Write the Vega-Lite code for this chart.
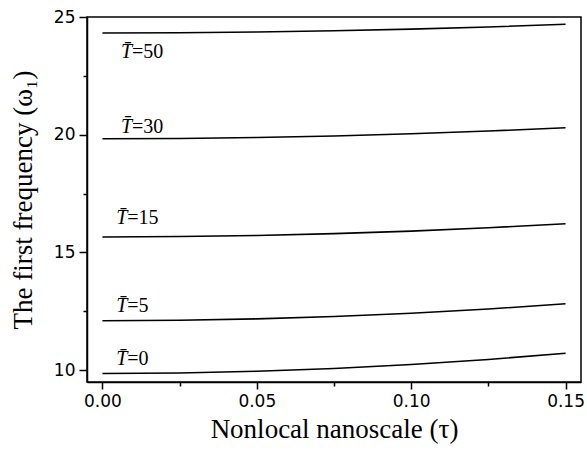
{
  "$schema": "https://vega.github.io/schema/vega-lite/v6.json",
  "width": 494,
  "height": 365,
  "autosize": {"type": "none"},
  "padding": {"left": 87, "top": 17, "right": 6, "bottom": 75},
  "background": "white",
  "config": {
    "view": {"stroke": "black", "strokeWidth": 1.5},
    "axis": {
      "grid": false,
      "domainColor": "black",
      "domainWidth": 1.5,
      "tickColor": "black",
      "tickWidth": 1.5,
      "labelColor": "black",
      "labelFont": "DejaVu Sans",
      "labelFontSize": 17,
      "labelOverlap": false,
      "labelFlush": false,
      "titleColor": "black",
      "titleFont": "Liberation Serif",
      "titleFontSize": 27,
      "titleFontWeight": "normal"
    }
  },
  "datasets": {
    "curves": [
      {"T": "0", "tau": 0, "freq": 9.86},
      {"T": "0", "tau": 0.025, "freq": 9.884},
      {"T": "0", "tau": 0.05, "freq": 9.955},
      {"T": "0", "tau": 0.075, "freq": 10.075},
      {"T": "0", "tau": 0.1, "freq": 10.242},
      {"T": "0", "tau": 0.125, "freq": 10.457},
      {"T": "0", "tau": 0.15, "freq": 10.72},
      {"T": "5", "tau": 0, "freq": 12.1},
      {"T": "5", "tau": 0.025, "freq": 12.12},
      {"T": "5", "tau": 0.05, "freq": 12.18},
      {"T": "5", "tau": 0.075, "freq": 12.28},
      {"T": "5", "tau": 0.1, "freq": 12.42},
      {"T": "5", "tau": 0.125, "freq": 12.6},
      {"T": "5", "tau": 0.15, "freq": 12.82},
      {"T": "15", "tau": 0, "freq": 15.66},
      {"T": "15", "tau": 0.025, "freq": 15.676},
      {"T": "15", "tau": 0.05, "freq": 15.722},
      {"T": "15", "tau": 0.075, "freq": 15.8},
      {"T": "15", "tau": 0.1, "freq": 15.909},
      {"T": "15", "tau": 0.125, "freq": 16.049},
      {"T": "15", "tau": 0.15, "freq": 16.22},
      {"T": "30", "tau": 0, "freq": 19.83},
      {"T": "30", "tau": 0.025, "freq": 19.843},
      {"T": "30", "tau": 0.05, "freq": 19.882},
      {"T": "30", "tau": 0.075, "freq": 19.948},
      {"T": "30", "tau": 0.1, "freq": 20.039},
      {"T": "30", "tau": 0.125, "freq": 20.156},
      {"T": "30", "tau": 0.15, "freq": 20.3},
      {"T": "50", "tau": 0, "freq": 24.32},
      {"T": "50", "tau": 0.025, "freq": 24.33},
      {"T": "50", "tau": 0.05, "freq": 24.361},
      {"T": "50", "tau": 0.075, "freq": 24.413},
      {"T": "50", "tau": 0.1, "freq": 24.484},
      {"T": "50", "tau": 0.125, "freq": 24.577},
      {"T": "50", "tau": 0.15, "freq": 24.69}
    ],
    "labels": [
      {"T": "0", "tau": 0.0045, "freq": 10.48, "rest": "=0"},
      {"T": "5", "tau": 0.0045, "freq": 12.72, "rest": "=5"},
      {"T": "15", "tau": 0.0045, "freq": 16.45, "rest": "=15"},
      {"T": "30", "tau": 0.006, "freq": 20.35, "rest": "=30"},
      {"T": "50", "tau": 0.006, "freq": 23.5, "rest": "=50"}
    ]
  },
  "layer": [
    {
      "data": {"name": "curves"},
      "mark": {"type": "line", "color": "black", "strokeWidth": 1.6, "interpolate": "natural"},
      "encoding": {
        "x": {
          "field": "tau",
          "type": "quantitative",
          "scale": {"domain": [-0.005, 0.155], "nice": false, "zero": false},
          "axis": {
            "title": "Nonlocal nanoscale (τ)",
            "values": [0, 0.025, 0.05, 0.075, 0.1, 0.125, 0.15],
            "labelExpr": "round(datum.value*1000) % 50 === 0 ? format(datum.value, '.2f') : ''",
            "tickSize": {"condition": {"test": "round(datum.value*1000) % 50 === 0", "value": 7}, "value": 4},
            "labelPadding": 4,
            "titlePadding": 7
          }
        },
        "y": {
          "field": "freq",
          "type": "quantitative",
          "scale": {"domain": [9.5, 25], "nice": false, "zero": false},
          "axis": {
            "title": "The first frequency (ω₁)",
            "values": [10, 12.5, 15, 17.5, 20, 22.5, 25],
            "labelExpr": "datum.value % 5 === 0 ? format(datum.value, 'd') : ''",
            "tickSize": {"condition": {"test": "datum.value % 5 === 0", "value": 8}, "value": 4},
            "labelPadding": 4,
            "titlePadding": 16
          }
        },
        "detail": {"field": "T"}
      }
    },
    {
      "data": {"name": "labels"},
      "mark": {"type": "text", "font": "Liberation Serif", "fontStyle": "italic", "fontSize": 20, "align": "left", "baseline": "middle", "color": "black"},
      "encoding": {
        "x": {"field": "tau", "type": "quantitative"},
        "y": {"field": "freq", "type": "quantitative"},
        "text": {"value": "T\u0304"}
      }
    },
    {
      "data": {"name": "labels"},
      "mark": {"type": "text", "font": "Liberation Serif", "fontSize": 20, "align": "left", "baseline": "middle", "dx": 11, "color": "black"},
      "encoding": {
        "x": {"field": "tau", "type": "quantitative"},
        "y": {"field": "freq", "type": "quantitative"},
        "text": {"field": "rest"}
      }
    }
  ]
}
